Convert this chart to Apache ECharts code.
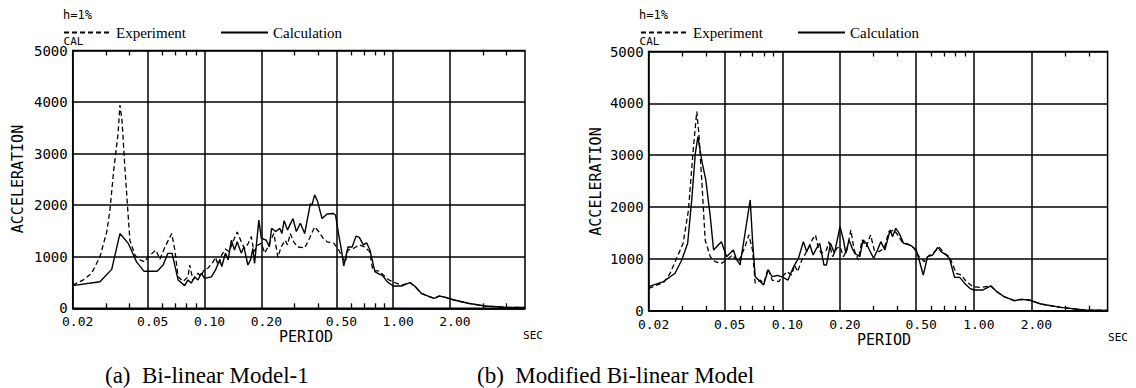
<!DOCTYPE html>
<html>
<head>
<meta charset="utf-8">
<script src="https://cdn.jsdelivr.net/npm/echarts@6/dist/echarts.min.js"></script>
<style>
  html, body { margin: 0; padding: 0; background: #fff; }
  #chart { width: 1136px; height: 388px; }
</style>
</head>
<body>
<div id="chart"></div>
<script>
// [period (sec), acceleration (gal)]
const expA = [
  [0.02, 450], [0.0228, 550], [0.0252, 680], [0.0279, 1000], [0.0303, 1480], [0.0315, 1900],
  [0.033, 2680], [0.0348, 3390], [0.0356, 3940], [0.0365, 3650], [0.0378, 2740], [0.0394, 1780],
  [0.0402, 1320], [0.0428, 1030], [0.0454, 940], [0.0482, 900], [0.05, 990], [0.0552, 1130],
  [0.058, 950], [0.0617, 1190], [0.067, 1450], [0.0696, 1130], [0.0724, 610], [0.077, 520],
  [0.0817, 610], [0.0834, 840], [0.0868, 550], [0.0923, 680], [0.0955, 620], [0.1, 760],
  [0.104, 775], [0.111, 900], [0.1142, 990], [0.1179, 840], [0.1232, 1030], [0.129, 1150],
  [0.135, 1100], [0.1414, 1290], [0.149, 1480], [0.1565, 1290], [0.163, 1160], [0.17, 1250],
  [0.177, 1390], [0.1826, 1100], [0.192, 1230], [0.2, 1260], [0.2086, 1070], [0.2166, 1190],
  [0.2268, 1360], [0.233, 1450], [0.245, 990], [0.2545, 1190], [0.2677, 1320], [0.2753, 1230],
  [0.2847, 1450], [0.2968, 1290], [0.3118, 1190], [0.3395, 1170], [0.3606, 1360], [0.3834, 1580],
  [0.4025, 1490], [0.4252, 1360], [0.4466, 1290], [0.4849, 1260], [0.5085, 1160], [0.515, 1130],
  [0.54, 970], [0.558, 900], [0.576, 1130], [0.615, 1160], [0.662, 1230], [0.705, 1190],
  [0.75, 1100], [0.78, 740], [0.843, 720], [0.89, 640], [0.95, 550], [1.02, 500],
  [1.107, 450], [1.226, 500], [1.3, 430], [1.41, 290], [1.555, 225], [1.65, 193],
  [1.75, 238], [1.895, 213], [2.1, 161], [2.5, 97], [3.07, 45], [3.9, 19], [5.0, 15]
];
const calA = [
  [0.02, 440], [0.0279, 515], [0.0322, 755], [0.0356, 1450], [0.0394, 1260], [0.0436, 900],
  [0.0477, 720], [0.0561, 720], [0.0603, 840], [0.0639, 1065], [0.0673, 1065], [0.0724, 550],
  [0.0785, 440], [0.0817, 550], [0.085, 490], [0.0887, 610], [0.0924, 550], [0.096, 680],
  [0.1, 580], [0.1088, 610], [0.1142, 740], [0.1203, 940], [0.1235, 810], [0.129, 1070],
  [0.1333, 940], [0.1387, 1320], [0.1442, 1130], [0.149, 1290], [0.1565, 1070], [0.1617, 1190],
  [0.1697, 840], [0.1754, 940], [0.1804, 1160], [0.1842, 870], [0.194, 1710], [0.2, 1360],
  [0.2126, 1320], [0.2206, 1190], [0.2268, 1550], [0.2384, 1490], [0.2508, 1550], [0.257, 1450],
  [0.2643, 1700], [0.2753, 1520], [0.2943, 1740], [0.3067, 1490], [0.322, 1650], [0.3395, 1450],
  [0.3638, 2030], [0.371, 2000], [0.3834, 2200], [0.3977, 2070], [0.4199, 1740], [0.4466, 1830],
  [0.4803, 1840], [0.4947, 1810], [0.5148, 1420], [0.532, 1130], [0.547, 820], [0.5763, 1190],
  [0.606, 1190], [0.6357, 1400], [0.6618, 1375], [0.6946, 1230], [0.723, 1270], [0.753, 1130],
  [0.8, 710], [0.843, 665], [0.877, 640], [0.93, 516], [1.0, 432], [1.107, 432],
  [1.226, 497], [1.3, 432], [1.41, 291], [1.555, 225], [1.65, 193], [1.75, 238],
  [1.895, 213], [2.1, 161], [2.5, 97], [3.07, 45], [3.9, 19], [5.0, 15]
];
const expB = [
  [0.02, 432], [0.0239, 540], [0.0259, 720], [0.028, 1010], [0.0303, 1300], [0.0323, 1940],
  [0.0342, 3100], [0.0357, 3840], [0.0366, 3420], [0.038, 2460], [0.0395, 1360], [0.042, 1040],
  [0.0445, 946], [0.048, 913], [0.0511, 978], [0.0548, 1075], [0.0591, 946], [0.0638, 1235],
  [0.0668, 1460], [0.0698, 1170], [0.0721, 530], [0.0767, 590], [0.08, 530], [0.0842, 817],
  [0.0884, 590], [0.0958, 560], [0.1, 656], [0.1055, 753], [0.112, 688], [0.1157, 882],
  [0.12, 753], [0.1264, 978], [0.1323, 1107], [0.143, 1364], [0.149, 1461], [0.154, 1203],
  [0.16, 1107], [0.17, 1171], [0.175, 1332], [0.183, 1042], [0.192, 1203], [0.2, 1235],
  [0.2085, 1042], [0.2172, 1171], [0.228, 1557], [0.237, 1171], [0.249, 978], [0.261, 1364],
  [0.274, 1235], [0.289, 1461], [0.302, 1171], [0.32, 1139], [0.34, 1203], [0.36, 1525],
  [0.383, 1557], [0.4, 1461], [0.424, 1313], [0.46, 1268], [0.488, 1203], [0.518, 1042],
  [0.552, 946], [0.5735, 1042], [0.623, 1139], [0.661, 1222], [0.702, 1107], [0.746, 1042],
  [0.81, 720], [0.86, 688], [0.915, 560], [0.99, 463], [1.09, 450], [1.228, 477],
  [1.319, 367], [1.44, 270], [1.625, 193], [1.76, 219], [1.95, 206], [2.24, 129],
  [2.84, 65], [3.76, 14], [5.0, 5]
];
const calB = [
  [0.02, 463], [0.0239, 560], [0.0275, 722], [0.0298, 978], [0.032, 1300], [0.0336, 2137],
  [0.0351, 3038], [0.0362, 3358], [0.038, 2876], [0.0398, 2522], [0.042, 1814], [0.0437, 1171],
  [0.048, 1332], [0.0511, 1042], [0.0554, 1171], [0.0575, 1000], [0.0601, 882], [0.0638, 1494],
  [0.0679, 2137], [0.0698, 1364], [0.0721, 656], [0.0767, 560], [0.0798, 496], [0.0842, 785],
  [0.0884, 656], [0.0941, 680], [0.1, 650], [0.1069, 592], [0.1144, 849], [0.1213, 1011],
  [0.1287, 1332], [0.1339, 1139], [0.1392, 1268], [0.1448, 1075], [0.1506, 1203], [0.1566, 1300],
  [0.1648, 882], [0.17, 882], [0.1783, 1300], [0.187, 1107], [0.2, 1621], [0.2085, 1364],
  [0.2144, 1107], [0.2229, 1364], [0.2316, 1203], [0.2386, 1107], [0.2537, 1042], [0.2638, 1364],
  [0.2742, 1300], [0.285, 1171], [0.2996, 1011], [0.314, 1171], [0.3268, 1332], [0.343, 1171],
  [0.3654, 1557], [0.3758, 1429], [0.3913, 1590], [0.4074, 1493], [0.4293, 1300], [0.4505, 1287],
  [0.4784, 1235], [0.5, 1171], [0.5184, 978], [0.5443, 689], [0.5735, 1042], [0.6098, 1075],
  [0.648, 1222], [0.6752, 1139], [0.7168, 1075], [0.7463, 1011], [0.7936, 643], [0.8436, 643],
  [0.897, 527], [0.953, 431], [1.0, 399], [1.11, 399], [1.228, 477], [1.319, 367],
  [1.44, 270], [1.625, 193], [1.76, 219], [1.95, 206], [2.24, 129], [2.84, 65],
  [3.76, 14], [5.0, 5]
];

const periodLabels = [0.02, 0.05, 0.1, 0.2, 0.5, 1, 2];
const gridPeriods = [0.05, 0.1, 0.2, 0.5, 1, 2];
const minorPeriods = [0.03, 0.04, 0.06, 0.07, 0.08, 0.09, 0.3, 0.4, 0.6, 0.7, 0.8, 0.9, 3, 4];
const captions = ["(a)  Bi-linear Model-1", "(b)  Modified Bi-linear Model"];

const plotFont = "DejaVu Sans Mono";
const serifFont = "Liberation Serif";

const panels = [
  { grid: { left: 72.7, top: 50.5, width: 452.3, height: 257.8 }, exp: expA, cal: calA, dx: 0, dy: 0, capX: 105, legX: 63 },
  { grid: { left: 648.6, top: 51.5, width: 459, height: 259.2 }, exp: expB, cal: calB, dx: 576, dy: 2.5, capX: 477, legX: 640 },
];

const chart = echarts.init(document.getElementById("chart"), null, { renderer: "svg" });

const grids = [];
const xAxes = [];
const yAxes = [];
const series = [];
const legends = [];
const graphics = [];

panels.forEach((p, i) => {
  grids.push({
    ...p.grid,
    show: true,
    borderColor: "#000",
    borderWidth: 1.5,
    containLabel: false,
    outerBoundsMode: "none",
  });

  const logBase = { type: "log", logBase: 10, gridIndex: i, min: 0.02, max: 5 };
  // main axis: labels + vertical grid lines
  xAxes.push({
    ...logBase,
    position: "bottom",
    axisLine: { show: true, lineStyle: { color: "#000", width: 1.5 } },
    axisTick: { show: false, customValues: gridPeriods },
    axisLabel: {
      customValues: periodLabels,
      formatter: (v) => Number(v).toFixed(2),
      color: "#000",
      fontFamily: plotFont,
      fontSize: 13,
      margin: 7,
      padding: [0, 0, 0, 10],
    },
    splitLine: { show: true, lineStyle: { color: "#000", width: 1.5 } },
  });
  // minor ticks bottom + top
  ["bottom", "top"].forEach((pos) => {
    xAxes.push({
      ...logBase,
      position: pos,
      axisLine: { show: false },
      axisTick: { show: true, inside: true, length: 5, customValues: minorPeriods, lineStyle: { color: "#000", width: 1.3 } },
      axisLabel: { show: false },
      splitLine: { show: false },
    });
  });

  yAxes.push({
    type: "value",
    gridIndex: i,
    min: 0,
    max: 5000,
    interval: 1000,
    axisLine: { show: true, lineStyle: { color: "#000", width: 1.5 } },
    axisTick: { show: false },
    axisLabel: { color: "#000", fontFamily: plotFont, fontSize: 14, margin: 5, formatter: (v) => String(v) },
    splitLine: { show: true, lineStyle: { color: "#000", width: 1.5 } },
  });

  series.push({
    name: "Experiment",
    type: "line",
    xAxisIndex: i * 3,
    yAxisIndex: i,
    data: p.exp,
    symbol: "none",
    showSymbol: false,
    lineStyle: { color: "#000", width: 1.3, type: [5, 3] },
    itemStyle: { color: "#000" },
    z: 3,
  });
  series.push({
    name: "Calculation",
    type: "line",
    xAxisIndex: i * 3,
    yAxisIndex: i,
    data: p.cal,
    symbol: "none",
    showSymbol: false,
    lineStyle: { color: "#000", width: 1.4, type: "solid" },
    itemStyle: { color: "#000" },
    z: 4,
  });

  legends.push({
    data: ["Experiment", "Calculation"],
    left: p.legX,
    top: 25,
    padding: 0,
    icon: "inherit",
    itemWidth: 47,
    itemHeight: 14,
    itemGap: 34,
    itemStyle: { opacity: 0 },
    selectedMode: false,
    textStyle: { fontFamily: serifFont, fontSize: 15, color: "#000" },
  });

  const dx = p.dx, dy = p.dy;
  graphics.push(
    { type: "text", left: 63 + dx, top: 9, style: { text: "h=1%", font: `12px '${plotFont}'`, fill: "#000" } },
    { type: "text", x: 73.5 + dx, y: 41.5, style: { text: "CAL", font: `11px '${plotFont}'`, fill: "#000", align: "center", verticalAlign: "middle" } },
    { type: "text", x: 18 + (i ? 578 : 0), y: 179 + dy, rotation: Math.PI / 2, style: { text: "ACCELERATION", font: `15px '${plotFont}'`, fill: "#000", align: "center", verticalAlign: "middle" } },
    { type: "text", x: 306 + (i ? 578 : 0), y: 337 + dy, style: { text: "PERIOD", font: `15px '${plotFont}'`, fill: "#000", align: "center", verticalAlign: "middle" } },
    { type: "text", x: 533 + (i ? 585 : 0), y: 335 + dy, style: { text: "SEC", font: `11px '${plotFont}'`, fill: "#000", align: "center", verticalAlign: "middle" } },
    { type: "text", x: p.capX, y: 375, style: { text: captions[i], font: `23px '${serifFont}'`, fill: "#000", align: "left", verticalAlign: "middle" } }
  );
});

chart.setOption({
  animation: false,
  backgroundColor: "#fff",
  grid: grids,
  xAxis: xAxes,
  yAxis: yAxes,
  legend: legends,
  series: series,
  graphic: graphics,
});
</script>
</body>
</html>
